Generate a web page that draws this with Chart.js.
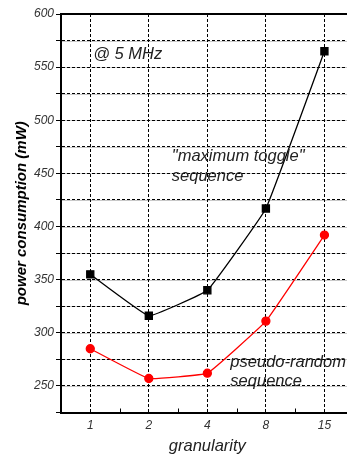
<!DOCTYPE html>
<html>
<head>
<meta charset="utf-8">
<script src="https://cdn.jsdelivr.net/npm/chart.js@4"></script>
<style>
    html, body { margin: 0; padding: 0; overflow: hidden; background: #fff; }
    #wrap { position: relative; width: 360px; height: 457px; }
</style>
</head>
<body>
<div id="wrap"><canvas id="powerChart"></canvas></div>
<script>
// granularity categories and measured power (mW)
const granularity = ['1', '2', '4', '8', '15'];
const maxToggle = [355, 316, 340, 417, 565];
const pseudoRandom = [285, 257, 262, 311, 392];
const yMin = 225;
const yMax = 600;

const FONT = 'Liberation Sans, Arial, Helvetica, sans-serif';

// light grey line under the dashed horizontal grid
const gridBacking = {
    id: 'gridBacking',
    beforeDraw(chart) {
        const ctx = chart.ctx;
        const area = chart.chartArea;
        const y = chart.scales.y;
        ctx.save();
        ctx.strokeStyle = '#c8c8c8';
        ctx.lineWidth = 1;
        y.ticks.forEach(function(t) {
            const py = Math.round(y.getPixelForValue(t.value)) + 0.5;
            ctx.beginPath();
            ctx.moveTo(area.left, py);
            ctx.lineTo(area.right, py);
            ctx.stroke();
        });
        ctx.restore();
    }
};

// frame line on top, minor ticks between categories, text labels in the plot
const decorations = {
    id: 'decorations',
    afterDraw(chart) {
        const ctx = chart.ctx;
        const area = chart.chartArea;
        const x = chart.scales.x;
        const y = chart.scales.y;
        ctx.save();
        ctx.strokeStyle = '#000';
        ctx.lineWidth = 2;
        ctx.beginPath();
        ctx.moveTo(area.left - 1, area.top);
        ctx.lineTo(area.right, area.top);
        ctx.stroke();

        ctx.lineWidth = 1;
        const half = (x.getPixelForValue(1) - x.getPixelForValue(0)) / 2;
        for (let i = 0; i <= granularity.length; i++) {
            const px = Math.round(x.getPixelForValue(i) - half) + 0.5;
            ctx.beginPath();
            ctx.moveTo(px, area.bottom - 4);
            ctx.lineTo(px, area.bottom);
            ctx.stroke();
        }

        ctx.fillStyle = '#222';
        ctx.font = 'italic 16.5px ' + FONT;
        ctx.textBaseline = 'middle';
        ctx.textAlign = 'left';
        ctx.fillText('@ 5 MHz', x.getPixelForValue(0) + 3, y.getPixelForValue(562));
        ctx.fillText('"maximum toggle"', x.getPixelForValue(1) + 23, y.getPixelForValue(466));
        ctx.fillText('sequence', x.getPixelForValue(1) + 23, y.getPixelForValue(447));
        ctx.fillText('pseudo-random', x.getPixelForValue(2) + 23, y.getPixelForValue(272.5));
        ctx.fillText('sequence', x.getPixelForValue(2) + 23, y.getPixelForValue(254));
        ctx.restore();
    }
};

document.addEventListener('DOMContentLoaded', function() {
    const ctx = document.getElementById('powerChart').getContext('2d');
    new Chart(ctx, {
        type: 'line',
        data: {
            labels: granularity,
            datasets: [{
                label: 'maximum toggle',
                data: maxToggle,
                borderColor: '#000',
                backgroundColor: '#000',
                borderWidth: 1.3,
                pointStyle: 'rect',
                pointRadius: 5,
                tension: 0.08
            }, {
                label: 'pseudo-random',
                data: pseudoRandom,
                borderColor: '#ff0000',
                backgroundColor: '#ff0000',
                borderWidth: 1.3,
                pointStyle: 'circle',
                pointRadius: 4,
                tension: 0.08
            }]
        },
        options: {
            responsive: true,
            maintainAspectRatio: false,
            animation: false,
            layout: {
                padding: { left: 0, top: 14, right: 1.5, bottom: 0 }
            },
            plugins: {
                legend: { display: false },
                tooltip: { enabled: false }
            },
            scales: {
                x: {
                    offset: true,
                    afterFit: function(scale) { scale.height = 44.5; },
                    grid: {
                        offset: false,
                        color: '#000',
                        lineWidth: 1,
                        tickLength: 4,
                        tickColor: 'rgba(0,0,0,0)'
                    },
                    border: { display: true, color: '#000', width: 2, dash: [3, 2] },
                    ticks: {
                        color: '#333',
                        padding: 2,
                        font: { family: FONT, style: 'italic', size: 12 }
                    },
                    title: {
                        display: true,
                        text: 'granularity',
                        color: '#222',
                        padding: { top: 0, bottom: 1 },
                        font: { family: FONT, style: 'italic', size: 16.5 }
                    }
                },
                y: {
                    min: yMin,
                    max: yMax,
                    afterFit: function(scale) { scale.width = 61; },
                    grid: {
                        color: '#000',
                        lineWidth: 1,
                        tickLength: 5,
                        tickColor: '#000'
                    },
                    border: { display: true, color: '#000', width: 2, dash: [3, 2] },
                    ticks: {
                        stepSize: 25,
                        padding: 2,
                        color: '#333',
                        font: { family: FONT, style: 'italic', size: 12 },
                        callback: function(value) {
                            return value % 50 === 0 ? value : '';
                        }
                    },
                    title: {
                        display: true,
                        text: 'power consumption (mW)',
                        color: '#000',
                        padding: { top: 13, bottom: 0 },
                        font: { family: FONT, style: 'italic', weight: 'bold', size: 15 }
                    }
                }
            }
        },
        plugins: [gridBacking, decorations]
    });
});
</script>
</body>
</html>
